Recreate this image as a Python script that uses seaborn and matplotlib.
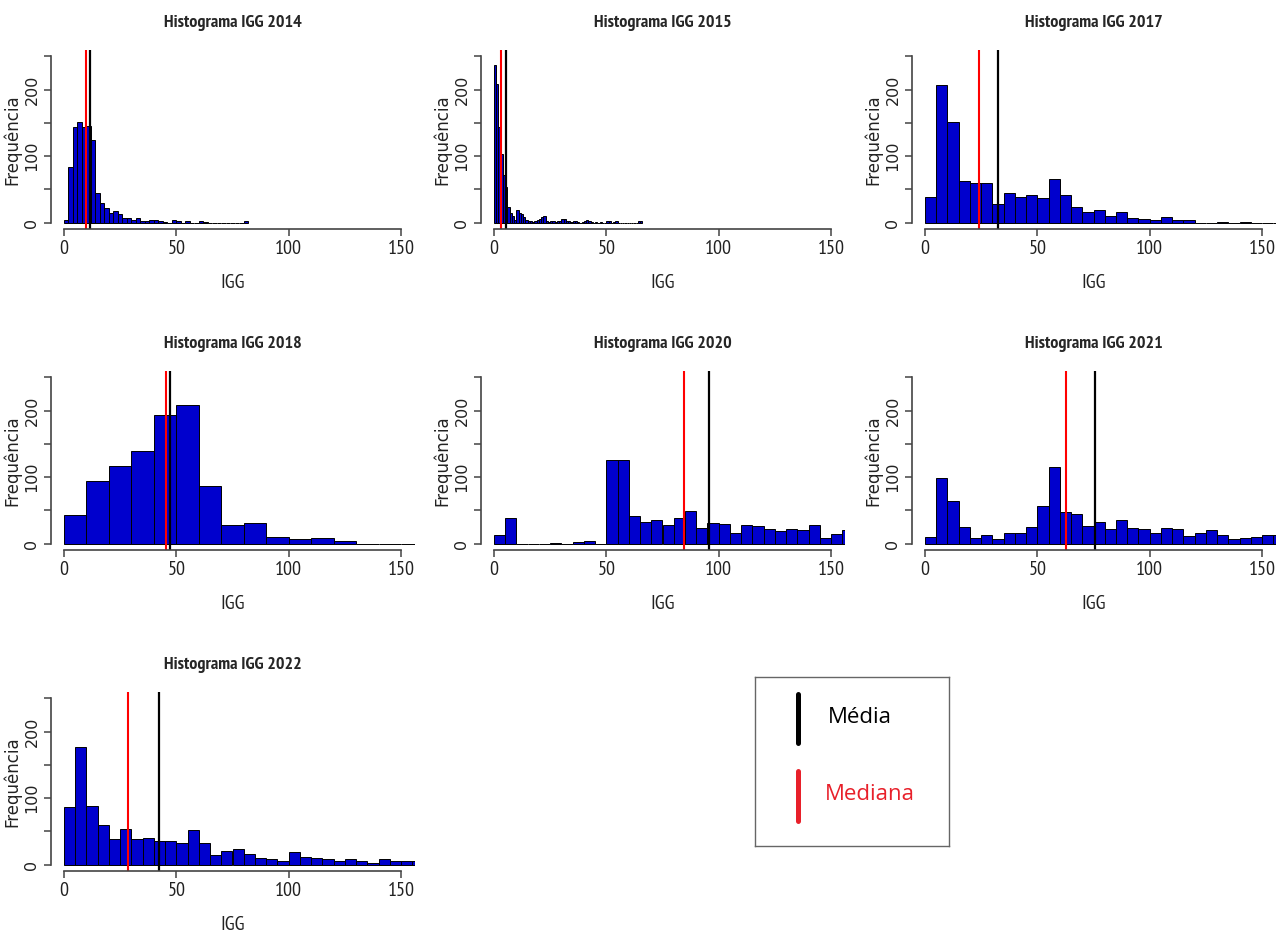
import numpy as np
import pandas as pd
import matplotlib
matplotlib.use("Agg")
import matplotlib.pyplot as plt
import seaborn as sns

sns.set_style("ticks")
plt.rcParams["font.family"] = ["Liberation Sans", "DejaVu Sans"]

##############################################
### DATA #####################################
##############################################

years = ["2014", "2015", "2017", "2018", "2020", "2021", "2022"]
bin_widths = [2, 1, 5, 10, 5, 5, 5]

counts_2014 = [4, 84, 144, 151, 143, 145, 124, 44, 29, 22, 15, 18, 13, 7, 7,
               4, 7, 3, 3, 4, 4, 3, 1, 0, 4, 3, 0, 3, 0, 0, 3, 1,
               0, 0, 0, 0, 0, 0, 0, 0, 2]
counts_2015 = [237, 208, 144, 103, 72, 54, 24, 15, 10, 4, 19, 14, 13, 9, 4, 3,
               2, 1, 2, 4, 6, 9, 10, 2, 1, 2, 3, 1, 3, 2, 5, 6, 3, 2, 1, 3,
               2, 1, 0, 1, 2, 4, 2, 1, 0, 1, 0, 1, 0, 0, 3, 2, 0, 1, 3, 0,
               0, 0, 0, 0, 0, 0, 0, 0, 2, 2]
counts_2017 = [39, 207, 151, 63, 59, 59, 28, 44, 38, 41, 37, 65, 41, 24, 16, 19,
               10, 16, 7, 6, 4, 9, 4, 4, 0, 0, 1, 0, 1, 0, 0, 0]
counts_2018 = [43, 94, 116, 139, 193, 208, 87, 28, 31, 10, 7, 9, 4, 0, 0, 0]
counts_2020 = [13, 39, 0, 0, 0, 1, 0, 3, 4, 0, 125, 125, 42, 33, 35, 28,
               39, 49, 23, 31, 29, 16, 28, 27, 22, 19, 22, 21, 28, 9, 15, 20]
counts_2021 = [10, 98, 64, 25, 8, 13, 7, 16, 16, 25, 57, 115, 48, 45, 27, 32,
               22, 35, 23, 22, 16, 23, 22, 11, 16, 20, 13, 7, 8, 10, 13, 13]
counts_2022 = [86, 177, 88, 60, 38, 53, 39, 40, 35, 36, 32, 52, 32, 14, 20, 23,
               16, 10, 8, 6, 19, 11, 10, 8, 6, 8, 6, 3, 8, 6, 6, 6]

all_counts = [counts_2014, counts_2015, counts_2017, counts_2018,
              counts_2020, counts_2021, counts_2022]

means = [11.7, 5.3, 32.3, 47.0, 95.8, 75.8, 42.2]
medians = [9.9, 3.1, 23.9, 45.4, 84.6, 62.9, 28.7]

x_ticks = [0, 50, 100, 150]
y_ticks = [0, 50, 100, 150, 200, 250]
y_ticklabels = ["0", "", "100", "", "200", ""]

##############################################
### LAYOUT ###################################
##############################################

W, H = 1277, 932
fig = plt.figure(figsize=(W / 100, H / 100), dpi=100)

col_left = [50.5, 480.5, 911.5]
row_top = [49.6, 370.6, 691.6]
ax_w, ax_h = 364, 179.7

bar_color = "#0000CD"
axis_color = "#444444"
narrow = ["Liberation Sans Narrow", "PT Sans Narrow", "Roboto Condensed",
          "Archivo Narrow", "Liberation Sans", "DejaVu Sans"]

for i, year in enumerate(years):
    r, c = divmod(i, 3)
    ax = fig.add_axes([col_left[c] / W, 1 - (row_top[r] + ax_h) / H, ax_w / W, ax_h / H])

    w = bin_widths[i]
    counts = np.array(all_counts[i], dtype=float)
    n_bins = len(counts)
    df = pd.DataFrame({"IGG": np.arange(n_bins) * w + w / 2, "n": counts})

    sns.histplot(data=df, x="IGG", weights="n", binwidth=w, binrange=(0, n_bins * w),
                 color=bar_color, edgecolor="black", linewidth=0.7, alpha=1, ax=ax)

    ax.axvline(medians[i], color="red", lw=1.5)
    ax.axvline(means[i], color="black", lw=1.6)

    ax.set_xlim(-6, 156)
    ax.set_ylim(-10, 260)

    for s in ["top", "right"]:
        ax.spines[s].set_visible(False)
    ax.spines["left"].set_bounds(0, 250)
    ax.spines["bottom"].set_bounds(0, 150)
    for s in ["left", "bottom"]:
        ax.spines[s].set_color(axis_color)
        ax.spines[s].set_linewidth(1.2)

    ax.set_xticks(x_ticks)
    ax.set_xticklabels([str(t) for t in x_ticks], family=narrow, fontsize=14.5, color="#222222")
    ax.set_yticks(y_ticks)
    ax.set_yticklabels(y_ticklabels, family="DejaVu Sans", fontsize=11.5, color="#222222",
                       rotation=90, va="center")
    ax.tick_params(length=5, width=1.1, color=axis_color, pad=3)

    ax.set_xlabel("IGG", family=narrow, fontsize=14.5, color="#222222")
    ax.xaxis.set_label_coords(0.5, -0.30)
    ax.xaxis.label.set_va("center")
    ax.set_ylabel("Frequência", family="DejaVu Sans", fontsize=12, color="#222222")
    ax.yaxis.set_label_coords(-0.105, 0.5)
    ax.yaxis.label.set_va("center")

    ax.set_title(f"Histograma IGG {year}", family=narrow, fontsize=13,
                 fontweight="bold", y=1 + 27 / ax_h, va="center", pad=0)

##############################################
### LEGEND BOX ###############################
##############################################

lx0, lx1, ly0, ly1 = 755, 949.3, 676.7, 846
lax = fig.add_axes([lx0 / W, 1 - ly1 / H, (lx1 - lx0) / W, (ly1 - ly0) / H])
lax.set_xlim(lx0, lx1)
lax.set_ylim(ly1, ly0)
lax.set_xticks([])
lax.set_yticks([])
for s in lax.spines.values():
    s.set_color("#666666")
    s.set_linewidth(1.0)

lax.plot([798.3, 798.3], [694, 743], color="black", lw=3.6, solid_capstyle="round")
lax.plot([798.3, 798.3], [771, 821], color="#E8202A", lw=3.6, solid_capstyle="round")
lax.text(828, 718, "Média", color="black", fontsize=16, family=["Open Sans", "DejaVu Sans"],
         va="center", ha="left")
lax.text(825, 795, "Mediana", color="#E8202A", fontsize=16, family=["Open Sans", "DejaVu Sans"],
         va="center", ha="left")

fig.savefig("out.png", dpi=100)
